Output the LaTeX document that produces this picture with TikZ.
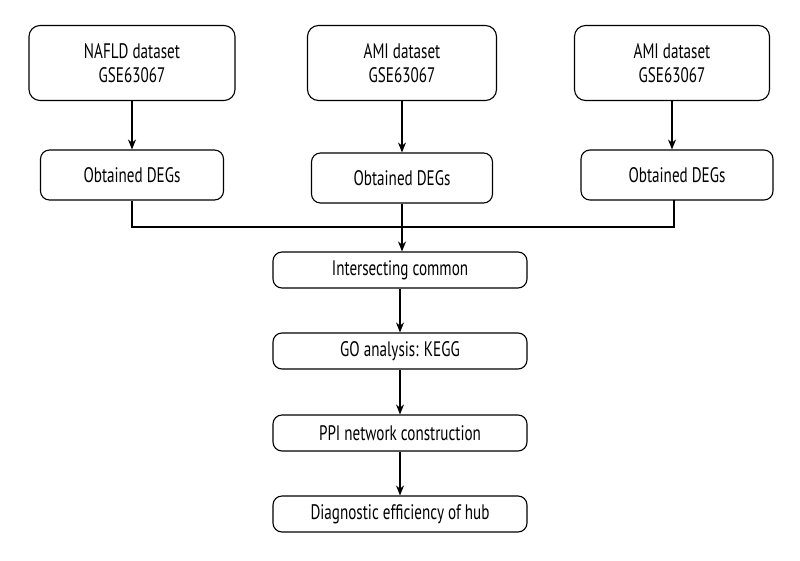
\documentclass[tikz,border=0pt]{standalone}
\usepackage{fontspec}
\setmainfont[FakeStretch=0.72]{PT Sans}
\usetikzlibrary{arrows.meta}

\begin{document}
\begin{tikzpicture}[x=1pt, y=-1pt]
        % styles
        \tikzstyle{dataset}=[draw, rounded corners=11pt, line width=1.1pt, align=center, font=\fontsize{21}{24}\selectfont, minimum height=75pt, inner sep=0pt]
        \tikzstyle{degs}=[draw, rounded corners=9pt, line width=1.1pt, font=\fontsize{21}{24}\selectfont, minimum height=50pt, inner sep=0pt]
        \tikzstyle{stage}=[draw, rounded corners=9pt, line width=1.1pt, font=\fontsize{21}{24}\selectfont, minimum width=254pt, minimum height=36pt, inner sep=0pt]
        \tikzstyle{flow}=[line width=1.1pt, -{Stealth[length=10pt, width=8pt]}]
        \tikzstyle{link}=[line width=1.1pt]

        % frame
        \useasboundingbox (0,0) rectangle (800,560);

        % datasets
        \node[dataset, minimum width=206pt] (nafld) at (132,63) {NAFLD dataset\\GSE63067};
        \node[dataset, minimum width=189pt] (amiB) at (402,63) {AMI dataset\\GSE63067};
        \node[dataset, minimum width=195pt] (amiC) at (672,63) {AMI dataset\\GSE63067};

        % DEGs
        \node[degs, minimum width=183pt] (degA) at (132,175) {Obtained DEGs};
        \node[degs, minimum width=181pt] (degB) at (402,178) {Obtained DEGs};
        \node[degs, minimum width=192pt] (degC) at (677,175) {Obtained DEGs};

        % pipeline
        \node[stage] (inter) at (400,270) {Intersecting common};
        \node[stage] (go) at (400,351) {GO analysis: KEGG};
        \node[stage] (ppi) at (400,433) {PPI network construction};
        \node[stage] (hub) at (400,514) {Diagnostic efficiency of hub};

        % arrows
        \draw[flow] (nafld) -- (degA);
        \draw[flow] (amiB) -- (degB);
        \draw[flow] (amiC.south) -- (amiC.south |- degC.north);
        \coordinate (join) at (402,227);
        \coordinate (footC) at (674,200);
        \draw[link] (degA.south) |- (join) -| (footC);
        \draw[flow] (degB.south) -- (degB.south |- inter.north);
        \draw[flow] (inter) -- (go);
        \draw[flow] (go) -- (ppi);
        \draw[flow] (ppi) -- (hub);
    \end{tikzpicture}
\end{document}
